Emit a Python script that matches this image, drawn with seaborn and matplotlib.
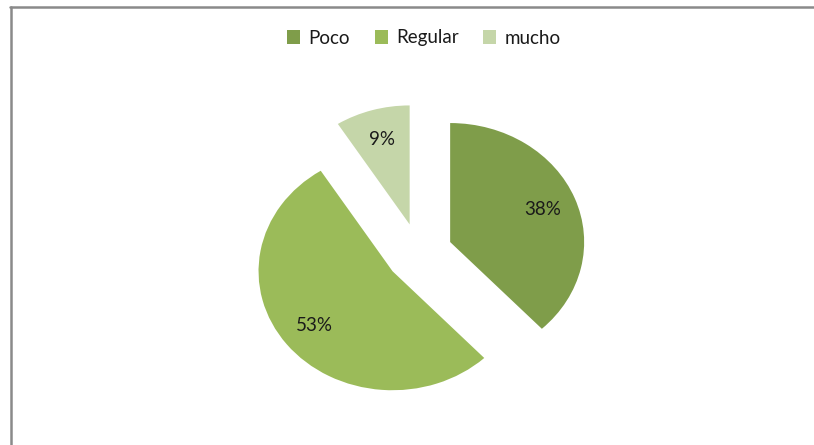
import matplotlib
matplotlib.use("Agg")
import matplotlib.pyplot as plt
import seaborn as sns
from matplotlib.lines import Line2D

# values
categories = ['Poco', 'Regular', 'mucho']
shares = [38, 53, 9]
colors = ['#7F9D4A', '#9BBB59', '#C5D6A9']

sns.set_theme(style="white")
plt.rcParams['font.family'] = ['Lato', 'DejaVu Sans']

W, H = 814, 445
fig = plt.figure(figsize=(W / 100, H / 100), dpi=100)
fig.patch.set_facecolor('white')

# chart area border: only top and left edges show in the crop
border = dict(transform=fig.transFigure, color='#8A8A8A', linewidth=1.8)
fig.lines.append(Line2D([10 / W, 1.01], [1 - 6.5 / H] * 2, **border))
fig.lines.append(Line2D([10.5 / W] * 2, [-0.01, 1 - 6.5 / H], **border))

ax = fig.add_axes([0, 0, 1, 1])
wedges, texts, autotexts = ax.pie(
    shares, colors=colors, startangle=90, counterclock=False,
    explode=[0.25] * len(shares), autopct='%1.0f%%', pctdistance=0.74,
    wedgeprops=dict(linewidth=0), textprops=dict(fontsize=13.5, color='#1a1a1a'))

# stretched pie like the original (wider than tall)
cx, cy = 419, H - 253
rx, ry = 134, 119
ax.set_aspect('auto')
ax.set_xlim(-cx / rx, (W - cx) / rx)
ax.set_ylim(-cy / ry, (H - cy) / ry)
ax.axis('off')

fig.legend(wedges, categories, loc='center', bbox_to_anchor=(424 / W, 1 - 38 / H),
           ncol=3, frameon=False, fontsize=13.5, handlelength=0.7, handleheight=0.7,
           handletextpad=0.45, columnspacing=1.3, labelcolor='#1a1a1a')

fig.savefig('out.png', dpi=100, facecolor='white')
